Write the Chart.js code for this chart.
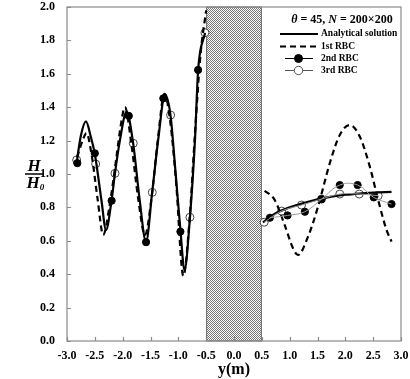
<!DOCTYPE html>
<html>
<head>
<meta charset="utf-8">
<script src="https://cdn.jsdelivr.net/npm/chart.js@4"></script>
<style>
  body { margin: 0; background: #fff; }
  #wrap { width: 410px; height: 379px; }
</style>
</head>
<body>
<div id="wrap"><canvas id="myChart" width="410" height="379"></canvas></div>
<script>
// values
const anaLeftX = [-2.83, -2.75, -2.66, -2.57, -2.50, -2.38, -2.30, -2.20, -2.14, -2.05, -1.93, -1.81, -1.70, -1.58, -1.47, -1.36, -1.24, -1.14, -1.06, -0.96, -0.89, -0.79, -0.70, -0.645, -0.52];
const anaLeftY = [1.06, 1.23, 1.315, 1.22, 1.12, 0.84, 0.665, 0.84, 1.00, 1.20, 1.372, 1.18, 0.86, 0.595, 0.89, 1.21, 1.475, 1.35, 1.05, 0.655, 0.425, 0.745, 1.21, 1.62, 1.845];
const anaRightX = [0.52, 0.75, 1.0, 1.25, 1.5, 1.75, 2.0, 2.25, 2.5, 2.83];
const anaRightY = [0.71, 0.765, 0.80, 0.826, 0.848, 0.865, 0.876, 0.883, 0.888, 0.893];

const rbc1LeftX = [-2.82, -2.72, -2.65, -2.56, -2.45, -2.35, -2.24, -2.12, -2.03, -1.96, -1.84, -1.72, -1.60, -1.48, -1.37, -1.25, -1.14, -1.04, -0.91, -0.80, -0.70, -0.60, -0.50];
const rbc1LeftY = [1.10, 1.20, 1.245, 1.12, 0.85, 0.635, 0.80, 1.08, 1.30, 1.40, 1.17, 0.85, 0.635, 0.86, 1.20, 1.48, 1.30, 0.95, 0.39, 0.72, 1.25, 1.72, 1.98];
const rbc1RightX = [0.55, 0.73, 0.91, 1.06, 1.15, 1.33, 1.51, 1.72, 1.90, 2.08, 2.26, 2.44, 2.59, 2.74, 2.83];
const rbc1RightY = [0.90, 0.845, 0.695, 0.555, 0.515, 0.625, 0.805, 1.064, 1.234, 1.293, 1.224, 1.044, 0.844, 0.665, 0.595];

const rbc2LeftX = [-2.815, -2.50, -2.198, -1.89, -1.58, -1.27, -0.963, -0.645];
const rbc2LeftY = [1.065, 1.124, 0.84, 1.348, 0.592, 1.453, 0.655, 1.623];
const rbc2RightX = [0.645, 0.962, 1.273, 1.572, 1.90, 2.22, 2.51, 2.83];
const rbc2RightY = [0.738, 0.752, 0.774, 0.849, 0.934, 0.934, 0.860, 0.820];

const rbc3LeftX = [-2.826, -2.485, -2.138, -1.81, -1.468, -1.139, -0.792, -0.522];
const rbc3LeftY = [1.084, 1.06, 1.004, 1.184, 0.89, 1.353, 0.741, 1.846];
const rbc3RightX = [0.542, 0.854, 1.213, 1.572, 1.90, 2.25, 2.59];
const rbc3RightY = [0.711, 0.778, 0.814, 0.850, 0.880, 0.880, 0.870];

const wallFrom = -0.5;
const wallTo = 0.5;

const SERIF = '"Liberation Serif", "Times New Roman", serif';

function pts(xs, ys) {
    return xs.map((x, i) => ({ x: x, y: ys[i] }));
}

function solid(xs, ys) {
    return { data: pts(xs, ys), borderColor: '#000', borderWidth: 2.2, pointRadius: 0,
             cubicInterpolationMode: 'monotone', fill: false };
}

function dashed(xs, ys) {
    return { data: pts(xs, ys), borderColor: '#000', borderWidth: 2.2, borderDash: [6, 4], pointRadius: 0,
             cubicInterpolationMode: 'monotone', fill: false };
}

function grayLine(xs, ys) {
    return { data: pts(xs, ys), borderColor: '#9a9a9a', borderWidth: 1, pointRadius: 0,
             tension: 0.4, fill: false };
}

function markers(xs, ys, filled) {
    return { data: pts(xs, ys), showLine: false, pointRadius: filled ? 3.6 : 4,
             pointBackgroundColor: filled ? '#000' : '#fff',
             pointBorderColor: filled ? '#000' : '#444', pointBorderWidth: 1 };
}

// checkered wall between -0.5 and 0.5
function makePattern(ctx) {
    var c = document.createElement('canvas');
    c.width = 2; c.height = 2;
    var g = c.getContext('2d');
    g.fillStyle = '#fff';
    g.fillRect(0, 0, 2, 2);
    g.fillStyle = '#777';
    g.fillRect(0, 0, 1, 1);
    g.fillRect(1, 1, 1, 1);
    return ctx.createPattern(c, 'repeat');
}

const wallPlugin = {
    id: 'wall',
    beforeDatasetsDraw(chart) {
        const ctx = chart.ctx;
        const a = chart.chartArea;
        const x1 = chart.scales.x.getPixelForValue(wallFrom);
        const x2 = chart.scales.x.getPixelForValue(wallTo);
        ctx.save();
        ctx.fillStyle = makePattern(ctx);
        ctx.fillRect(x1, a.top, x2 - x1, a.bottom - a.top);
        ctx.strokeStyle = '#666';
        ctx.lineWidth = 1;
        ctx.strokeRect(x1 + 0.5, a.top, x2 - x1 - 1, a.bottom - a.top);
        ctx.restore();
    }
};

// frame, inward ticks, y-axis fraction label and legend
const decorPlugin = {
    id: 'decor',
    afterDraw(chart) {
        const ctx = chart.ctx;
        const a = chart.chartArea;
        const xs = chart.scales.x;
        const ys = chart.scales.y;
        ctx.save();
        ctx.strokeStyle = '#8a8a8a';
        ctx.lineWidth = 1.2;
        ctx.strokeRect(a.left, a.top, a.right - a.left, a.bottom - a.top);
        ctx.beginPath();
        xs.ticks.forEach(t => {
            const px = Math.round(xs.getPixelForValue(t.value)) + 0.5;
            ctx.moveTo(px, a.bottom);
            ctx.lineTo(px, a.bottom - 4);
        });
        ys.ticks.forEach(t => {
            const py = Math.round(ys.getPixelForValue(t.value)) + 0.5;
            ctx.moveTo(a.left, py);
            ctx.lineTo(a.left + 4, py);
        });
        ctx.stroke();

        // H / H0
        const cy = ys.getPixelForValue(1.0);
        ctx.fillStyle = '#000';
        ctx.textAlign = 'center';
        ctx.textBaseline = 'alphabetic';
        ctx.font = 'italic bold 17px ' + SERIF;
        ctx.fillText('H', 34, cy - 3);
        ctx.fillText('H', 33, cy + 14);
        ctx.font = 'italic bold 9px ' + SERIF;
        ctx.fillText('0', 42, cy + 16);
        ctx.strokeStyle = '#000';
        ctx.lineWidth = 1.5;
        ctx.beginPath();
        ctx.moveTo(25, cy);
        ctx.lineTo(44, cy);
        ctx.stroke();

        // legend title with italic symbols
        ctx.textAlign = 'left';
        ctx.textBaseline = 'middle';
        var parts = [['italic bold', '\u03B8'], ['bold', ' = 45, '], ['italic bold', 'N'], ['bold', ' = 200\u00D7200']];
        var total = 0;
        parts.forEach(p => { ctx.font = p[0] + ' 12px ' + SERIF; total += ctx.measureText(p[1]).width; });
        var tx = 342 - total / 2;
        parts.forEach(p => {
            ctx.font = p[0] + ' 12px ' + SERIF;
            ctx.fillText(p[1], tx, 20);
            tx += ctx.measureText(p[1]).width;
        });

        const rows = [
            { label: 'Analytical solution', y: 34, kind: 'solid' },
            { label: '1st RBC', y: 46.5, kind: 'dash' },
            { label: '2nd RBC', y: 58.5, kind: 'filled' },
            { label: '3rd RBC', y: 70.5, kind: 'open' }
        ];
        rows.forEach(r => {
            ctx.lineWidth = r.kind === 'solid' || r.kind === 'dash' ? 2.2 : 1;
            ctx.strokeStyle = r.kind === 'open' ? '#555' : '#000';
            ctx.setLineDash(r.kind === 'dash' ? [6, 4] : []);
            ctx.beginPath();
            if (r.kind === 'solid' || r.kind === 'dash') {
                ctx.moveTo(280, r.y);
                ctx.lineTo(318, r.y);
            } else {
                ctx.moveTo(285, r.y);
                ctx.lineTo(313, r.y);
            }
            ctx.stroke();
            ctx.setLineDash([]);
            if (r.kind === 'filled' || r.kind === 'open') {
                ctx.beginPath();
                ctx.arc(298.5, r.y, r.kind === 'filled' ? 4 : 4.2, 0, Math.PI * 2);
                ctx.fillStyle = r.kind === 'filled' ? '#000' : '#fff';
                ctx.fill();
                ctx.stroke();
            }
            ctx.fillStyle = '#000';
            ctx.font = 'bold 9.5px ' + SERIF;
            ctx.fillText(r.label, 321, r.y);
        });
        ctx.restore();
    }
};

var ctx = document.getElementById('myChart').getContext('2d');
var myChart = new Chart(ctx, {
    type: 'line',
    data: {
        datasets: [
            grayLine(rbc2RightX, rbc2RightY),
            grayLine(rbc3RightX, rbc3RightY),
            dashed(rbc1LeftX, rbc1LeftY),
            dashed(rbc1RightX, rbc1RightY),
            solid(anaLeftX, anaLeftY),
            solid(anaRightX, anaRightY),
            markers(rbc2LeftX, rbc2LeftY, true),
            markers(rbc2RightX, rbc2RightY, true),
            markers(rbc3LeftX, rbc3LeftY, false),
            markers(rbc3RightX, rbc3RightY, false)
        ]
    },
    options: {
        responsive: false,
        animation: false,
        events: [],
        layout: { padding: { left: 0, right: 9, top: 7, bottom: 0 } },
        plugins: { legend: { display: false }, tooltip: { enabled: false } },
        scales: {
            x: {
                type: 'linear',
                min: -3, max: 3,
                grid: { display: false },
                border: { display: false },
                ticks: {
                    stepSize: 0.5,
                    padding: 0,
                    color: '#000',
                    font: { family: SERIF, size: 12, weight: 'bold' },
                    callback: v => v.toFixed(1)
                },
                title: {
                    display: true,
                    text: 'y(m)',
                    color: '#000',
                    padding: { top: 0, bottom: 0 },
                    font: { family: SERIF, size: 16, weight: 'bold' }
                },
                afterFit: s => { s.height = 38; s.paddingLeft = 0; s.paddingRight = 0; }
            },
            y: {
                min: 0, max: 2,
                grid: { display: false },
                border: { display: false },
                ticks: {
                    stepSize: 0.2,
                    padding: 4,
                    color: '#000',
                    font: { family: SERIF, size: 12, weight: 'bold' },
                    callback: v => v.toFixed(1)
                },
                afterFit: s => { s.width = 67; s.paddingTop = 0; s.paddingBottom = 0; }
            }
        }
    },
    plugins: [wallPlugin, decorPlugin]
});
</script>
</body>
</html>
